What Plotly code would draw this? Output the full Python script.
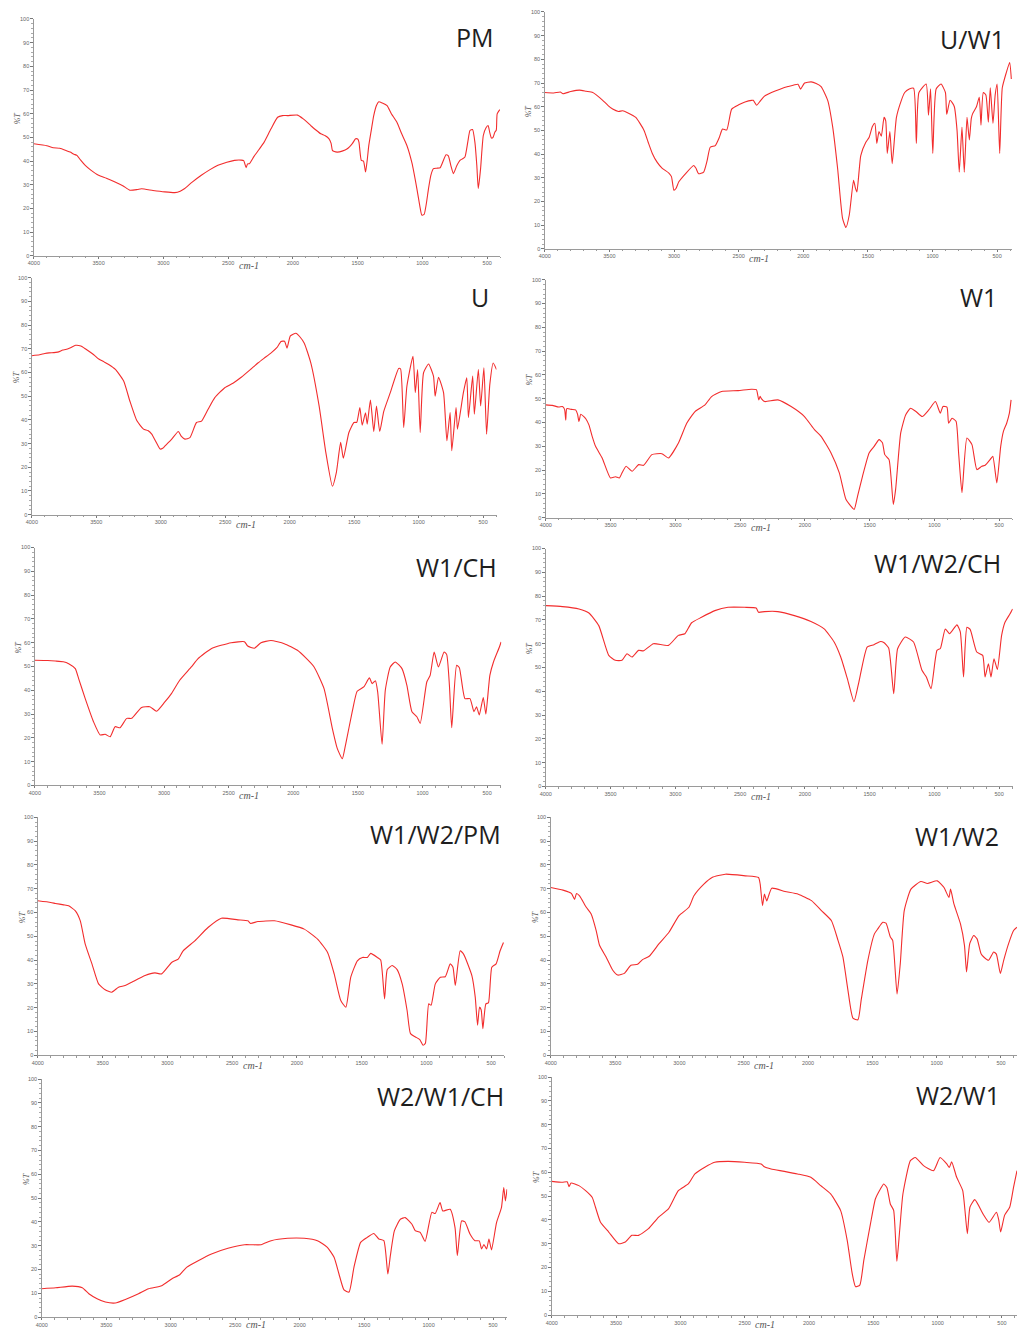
import plotly.graph_objects as go

W, H = 1017, 1332

# ---------------- data (wavenumber cm-1, %T) ----------------
PM_wn = [4000,3900,3850,3800,3757,3720,3690,3667,3640,3603,
         3560,3500,3440,3373,3310,3258,3200,3168,3080,2989,
         2912,2870,2835,2780,2707,2640,2579,2510,2451,2400,
         2380,2361,2350,2336,2300,2260,2222,2170,2118,2080,
         2041,1964,1920,1862,1820,1785,1750,1721,1705,1695,
         1680,1657,1620,1580,1540,1516,1500,1490,1472,1455,
         1439,1425,1414,1395,1376,1355,1337,1310,1273,1240,
         1197,1160,1120,1080,1043,1020,1005,987,970,953,
         935,915,890,863,840,818,800,780,761,735,
         710,690,672,650,633,613,595,580,569,551,
         540,530,510,493,480,467,455,441,430,423,
         403]
PM_T = [47.3,46.5,45.6,45.4,44.6,43.8,42.9,42.4,40.5,38.2,
        36.2,34,32.8,31.2,29.5,27.7,28,28.3,27.6,27,
        26.7,27.3,28.4,31,34,36.4,38.2,39.5,40.3,40.4,
        40.2,37.2,38.8,38.9,42,45,48,53.5,58.5,59.2,
        59.2,59.4,57.8,55,53,51.5,50.7,49.4,47.5,44.5,
        44,43.8,44.2,45.2,47.5,49.4,49.3,48,40.3,40,
        35.4,41,46.6,53,59.2,63.5,65,64.5,63.4,60,
        56.4,51.5,46.6,39,28.4,21,17.2,17.5,22,28.4,
        34,36.8,37,37.2,40,42.7,42.2,38,34.7,38,
        40.3,41,41.7,48,52.9,53.3,48,38,28.4,36.8,
        45,50.8,54,55,52,49.7,50,52.2,53,59.9,
        61.7]

UW1_wn = [4000,3930,3880,3859,3800,3731,3680,3629,3590,3552,
          3510,3475,3430,3398,3360,3296,3232,3200,3168,3130,
          3091,3040,3020,3001,2985,2963,2912,2848,2830,2810,
          2771,2745,2720,2681,2650,2625,2592,2554,2500,2451,
          2400,2387,2361,2336,2300,2246,2180,2118,2041,2021,
          1990,1939,1900,1862,1811,1773,1734,1696,1670,1644,
          1611,1598,1585,1555,1516,1491,1465,1446,1431,1414,
          1396,1375,1362,1350,1330,1312,1279,1241,1215,1180,
          1146,1125,1105,1049,1031,1015,998,972,934,900,
          890,864,845,831,810,793,772,754,733,715,
          700,690,660,638,625,607,587,568,553,532,
          515,500,480,460,429,403,390]
UW1_T = [66,65.8,66.2,65.5,66.4,67,66.5,66,64.5,62.7,
         60.5,59,58,58.3,57.5,55.5,50,45,40.3,36.5,
         34,32,30.5,24.8,25.5,28.3,31.7,35.2,34,31.7,
         32.4,37,42.9,43.6,47,50.6,50.2,59,60.8,62,
         62.7,62.7,60.6,62.2,64.5,66,67.4,68.5,69.5,67.4,
         70,70.5,69.8,68.5,62.7,51.7,33.8,12.9,9,14.3,
         29,26,24,39.4,45,47,51.7,53,44.5,49.5,
         47.6,55.5,54,40.3,49.5,36,55.5,62.7,66,67.5,
         67.8,44.5,66,69.6,56.4,67.6,40.3,67.5,69.6,66,
         56.8,62.7,61.5,60,50,32.4,51.3,32.4,55.5,46,
         55,57,60,64,52.2,66,65,53.5,68,53,
         65,69.6,40.3,68,74.4,78.7,71.7]

U_wn = [4000,3940,3900,3866,3800,3760,3738,3700,3661,3620,
        3580,3520,3481,3440,3404,3352,3288,3240,3185,3134,
        3100,3070,3040,3005,2985,2967,2915,2864,2840,2813,
        2774,2723,2684,2633,2581,2504,2440,2376,2300,2247,
        2200,2144,2100,2067,2040,2021,1995,1952,1920,1887,
        1836,1772,1720,1669,1638,1605,1584,1541,1502,1480,
        1456,1438,1412,1399,1374,1348,1327,1302,1271,1220,
        1155,1140,1116,1091,1044,1026,1008,988,962,923,
        885,872,846,807,781,756,743,710,699,653,
        627,614,581,568,537,519,494,473,448,422,
        396]
U_T = [67.1,67.5,68,68.3,68.6,69.5,69.7,70.5,71.5,71.2,
       69.8,67.5,65.7,64.5,63.4,61.3,56.4,48,39.6,36.1,
       35.5,34,31,27.7,28,29,31.9,35.1,33,31.9,
       32.5,38.9,39.5,44.5,49.4,53.6,55.5,58,61.5,64,
       66,68.3,70.5,73.1,73.2,70.3,75.5,76.6,75,72.4,
       64,45.9,26.3,12,17.9,30.5,23.8,34.7,38.9,39,
       45.2,37.8,43,38.2,48.4,35.1,45.9,35.1,43.5,51.5,
       61.7,61.5,36.8,54.3,66.9,51.5,61.3,34.7,59.9,63.6,
       58.5,50,58,51.5,31.2,43.1,27,45.2,36.1,51.5,
       57.8,41,58.5,42.4,61.3,45.9,62,34,55,64,
       61.3]

W1_wn = [4000,3950,3900,3872,3855,3846,3838,3800,3770,3755,
         3744,3730,3706,3690,3667,3642,3616,3565,3501,3462,
         3432,3410,3380,3334,3283,3245,3181,3104,3053,2976,
         2912,2848,2771,2720,2643,2515,2413,2374,2356,2345,
         2336,2310,2208,2106,2003,1926,1875,1798,1734,1683,
         1645,1619,1593,1555,1504,1465,1427,1401,1383,1350,
         1317,1299,1260,1222,1184,1140,1094,1043,992,954,
         934,903,890,864,833,813,787,749,710,672,
         634,608,570,549,518,488,467,442,421,408]
W1_T = [47.4,47.2,46.5,46.7,45.5,41,45.8,45.5,45.3,43.5,
        40.4,43.5,42.5,41.5,39,34.2,30,25.1,16.7,17.2,
        16.7,19,21.6,19.5,22.3,22,26.5,26.9,25.1,31.4,
        39.7,44.6,47.4,50.9,53,53.4,54,53.8,49.5,51,
        50,48.8,49.5,46.7,42.5,37,34.2,27.2,18.8,7.7,
        4.9,3.5,9.1,17.4,27.2,30,32.8,31.5,26.5,24.4,
        5.6,12,35.6,43.2,46,44.5,42.5,45.3,48.8,43.9,
        46.7,46.5,39.7,41.8,40.5,27.2,10.5,33.5,30.7,20.2,
        21.6,22,24.4,25.8,14.6,30,36.3,39.7,43.9,49.5]

W1CH_wn = [4000,3900,3841,3780,3738,3687,3661,3610,3546,3494,
           3456,3417,3379,3340,3289,3251,3174,3110,3058,2994,
           2943,2879,2789,2737,2635,2481,2378,2353,2301,2250,
           2173,2070,1968,1903,1839,1762,1698,1660,1621,1596,
           1544,1506,1455,1411,1390,1365,1347,1313,1288,1250,
           1211,1159,1121,1082,1044,1018,967,941,910,877,
           833,813,792,774,736,715,672,633,602,582,
           561,530,510,479,451,405,392]
W1CH_T = [52.6,52.5,52.3,52,51.2,49.1,44.9,36.5,26.8,21.2,
          21.5,20.5,24.7,24.3,28.2,28.2,32.8,33.1,31.2,35.1,
          38.6,44.2,49.8,53.3,57.5,60,60.4,58.6,57.7,60,
          60.9,59.6,56.8,53.6,49.8,40.7,24,15.6,11.2,17,
          31,39.6,41.4,45.2,42.8,44,39.3,17.3,40,49.8,
          51.9,49.1,42.1,31,28.9,26.1,43.5,46.3,56.1,49.8,
          56.1,55,42.1,24.3,50.5,49.5,36.5,36.5,31,33.1,
          29.6,37,30,46.3,51.9,58.2,60.3]

W1W2CH_wn = [4000,3872,3744,3667,3591,3514,3463,3412,3373,3335,
             3284,3245,3169,3053,2977,2926,2874,2798,2695,2593,
             2465,2376,2358,2312,2209,2081,1953,1851,1774,1723,
             1672,1621,1583,1519,1467,1416,1391,1353,1314,1284,
             1225,1161,1096,1062,1026,980,954,916,883,826,
             800,775,749,724,673,627,609,583,563,540,
             514,481,455,417,396]
W1W2CH_T = [76,75.6,74.6,72.9,67.6,55.1,53,53,55.8,54.4,
            57.2,57,60,59.3,63.5,64.2,68.8,71.1,73.9,75.3,
            75.3,75,73.2,73.5,73.5,71.8,69.3,66.2,60.7,54.4,
            45.3,35.6,43.9,58.6,59.6,60.9,60.5,58.2,39,57.9,
            62.8,60.7,48.8,46,41.1,57.2,58,66.2,64.2,67.9,
            65,46,66.9,66,56.5,55.1,46,51.6,46,53.7,
            49.2,63.5,69,72.5,74.6]

W1W2PM_wn = [4000,3900,3864,3800,3762,3710,3672,3634,3582,3531,
             3480,3429,3377,3326,3275,3172,3096,3044,2967,2916,
             2878,2788,2686,2583,2455,2378,2358,2301,2173,2045,
             1943,1840,1763,1712,1661,1622,1584,1533,1494,1456,
             1430,1379,1353,1323,1302,1264,1226,1187,1149,1123,
             1085,1051,1026,1008,982,964,931,892,854,816,
             795,777,739,713,649,623,605,590,577,564,
             541,521,495,462,431,405]
W1W2PM_T = [64.9,64.2,63.8,63.2,62.8,60.7,56.5,46.7,38.4,30,
            27.5,26.5,28.6,29.3,30.7,33.5,34.6,34.2,39,40.4,
            43.9,48.1,53.7,57.6,56.9,56.5,55.4,56.2,56.5,54.8,
            53,48.8,43.2,34.2,23,20.2,32.8,39.7,41.1,41.1,
            42.8,41.1,40,23.7,36,37.7,36,30,18.8,9.1,
            7.7,6.6,4.2,5,21.6,21,30,32.8,33,38.4,
            37,29.3,43.9,42.5,33.5,24.4,12.6,20.2,19,11.2,
            21.6,22,37,38.4,43.9,47.4]

W1W2_wn = [4000,3905,3840,3815,3800,3776,3724,3686,3647,3621,
           3570,3518,3480,3428,3377,3325,3287,3235,3158,3081,
           3003,2926,2887,2810,2746,2643,2488,2385,2372,2354,
           2339,2321,2282,2179,2076,1973,1896,1819,1767,1729,
           1690,1651,1612,1587,1535,1484,1458,1419,1394,1360,
           1342,1308,1283,1252,1200,1123,1072,995,943,905,
           892,866,815,784,768,743,712,686,655,634,
           596,557,536,505,479,441,402,376]
W1W2_T = [70.5,69.4,68,65.5,68,67,62.2,59.4,52.4,46.2,
          41.3,35.7,33.7,34.4,37.8,38.2,40.2,41.6,46.9,51.7,
          58.7,62.2,67,71.9,74.7,76.1,75.4,74.7,71.9,62.9,
          67.7,64.9,70.2,68.8,67.7,65,60.8,56.6,48.3,41.3,
          27.4,15.6,14.9,23.2,39.9,51,53.1,55.9,55.5,49.7,
          48.3,25.7,38.5,60.8,69.8,73,72.2,73.3,70.5,66.3,
          69.8,63.6,55.2,46.2,35,46.9,50.3,48.9,42.7,41.3,
          39.9,43.4,42.5,34.4,39.9,46.9,52.4,53.8]

W2W1CH_wn = [4000,3892,3764,3686,3635,3571,3507,3429,3352,3250,
             3172,3070,2993,2928,2877,2787,2684,2556,2427,2376,
             2299,2221,2093,1965,1862,1785,1733,1695,1656,1617,
             1579,1527,1476,1425,1386,1347,1316,1296,1265,1219,
             1181,1129,1104,1065,1027,975,949,911,890,833,
             795,777,744,718,679,640,607,589,571,550,
             532,512,473,435,417,404,392]
W2W1CH_T = [11.9,12.3,13,12.3,9.8,7.7,6.3,5.9,7.4,9.8,
            11.9,13.2,16,17.9,20.9,23.7,26.5,28.9,30.4,30.4,
            30.4,32.1,33.1,33.1,32.1,29.3,25.1,18.1,11.4,10.5,
            20.9,31.4,33.5,35.1,32.8,32.1,18.1,26,36.3,41.1,
            41.8,39,36.3,35.6,31.8,44,43.5,48.1,44.6,45.3,
            37.6,25.8,40.4,40,34.9,32.1,32,28.6,30.5,28.6,
            32.8,28.2,39.7,46,54.4,48.8,53.7]

W2W1_wn = [4000,3918,3880,3866,3850,3789,3737,3686,3660,3621,
           3557,3480,3428,3377,3325,3248,3171,3093,3016,2939,
           2887,2810,2733,2630,2501,2372,2347,2295,2192,2089,
           1986,1909,1832,1754,1703,1664,1638,1605,1574,1522,
           1484,1445,1419,1394,1368,1342,1317,1296,1270,1212,
           1174,1110,1032,981,929,909,891,852,805,769,
           749,711,647,600,543,525,510,479,440,410,383]
W2W1_T = [56.2,55.8,56,54,55.5,54.4,52.3,49.5,45.3,39,
          34.9,30,30.7,33.5,33.5,36.3,41.1,44.6,52.3,55.1,
          59.3,62.1,64.2,64.6,64.2,63.5,62.3,61.4,60.4,59.3,
          57.9,54.4,50.9,43.9,31.4,17.4,11.9,12.6,23,38.4,
          48.8,53,55.1,53.5,46.7,44,22.6,35,50.9,64.9,
          66.2,62.8,60.7,66.2,63.5,62,64.4,57.9,52.3,34.2,
          45.3,48.5,42.5,39,43.2,40,34.9,42,45.3,53.7,60.7]

titles = ["PM", "U/W1", "U", "W1", "W1/CH", "W1/W2/CH",
          "W1/W2/PM", "W1/W2", "W2/W1/CH", "W2/W1"]
series = [(PM_wn, PM_T), (UW1_wn, UW1_T), (U_wn, U_T), (W1_wn, W1_T),
          (W1CH_wn, W1CH_T), (W1W2CH_wn, W1W2CH_T), (W1W2PM_wn, W1W2PM_T),
          (W1W2_wn, W1W2_T), (W2W1CH_wn, W2W1CH_T), (W2W1_wn, W2W1_T)]

# ---------------- layout of the panels (pixels) ----------------
# left px of 4000, px per unit, range end, y px of 100, y px of 0, title right px, title centre px
geom = [
    (28, 0.1303, 400, 16, 254, 493, 34),
    (542, 0.1300, 385, 9, 247, 1007, 36),
    (26, 0.1297, 396, 276, 514, 488, 295),
    (543, 0.1303, 400, 278, 517, 999, 295),
    (29, 0.1300, 390, 547, 786, 496, 567),
    (543, 0.1303, 395, 548, 787, 1003, 563),
    (32, 0.1303, 400, 818, 1057, 500, 835),
    (548, 0.1294, 376, 818, 1057, 1001, 837),
    (36, 0.1297, 390, 1081, 1320, 503, 1098),
    (549, 0.1294, 383, 1079, 1318, 1002, 1097),
]

for wn, t in series:
    assert len(wn) == len(t), (len(wn), len(t))

fig = go.Figure()
annotations = []
layout = {}
AX = "#9a9a9a"
TICKF = dict(size=5.5, color="#666666", family="Liberation Sans")

for i, ((wn, t), name, g) in enumerate(zip(series, titles, geom), start=1):
    xl, sc, xend, y100, y0, tr, tc = g
    xr = min(xl + (4000 - xend) * sc, W)
    xa = "x" if i == 1 else f"x{i}"
    ya = "y" if i == 1 else f"y{i}"
    fig.add_trace(go.Scatter(x=wn, y=t, mode="lines", xaxis=xa, yaxis=ya,
                             line=dict(color="rgb(242,45,45)", width=1.1,
                                       shape="spline", smoothing=0.5),
                             showlegend=False, hoverinfo="skip"))
    layout[f"xaxis{'' if i == 1 else i}"] = dict(
        domain=[xl / W, xr / W], anchor=ya, range=[4000, xend],
        showgrid=False, zeroline=False, showline=True, linecolor=AX, linewidth=1,
        ticks="outside", ticklen=2, tickcolor="#777", tickwidth=1,
        tick0=0, dtick=500, tickfont=TICKF,
        minor=dict(dtick=100, ticks="outside", ticklen=1.5, tickcolor="#999"),
    )
    layout[f"yaxis{'' if i == 1 else i}"] = dict(
        domain=[(H - y0) / H, (H - y100) / H], anchor=xa, range=[0, 100],
        showgrid=False, zeroline=False, showline=True, linecolor=AX, linewidth=1,
        ticks="outside", ticklen=2.5, tickcolor="#777", tickwidth=1,
        tick0=0, dtick=10, tickfont=TICKF,
        minor=dict(dtick=2, ticks="outside", ticklen=1.5, tickcolor="#aaa"),
    )
    # panel title
    annotations.append(dict(text=name, x=tr / W, y=(H - tc) / H, xref="paper", yref="paper",
                            xanchor="right", yanchor="middle", showarrow=False,
                            font=dict(family="Open Sans", size=25, color="#1e1e1e")))
    # %T label
    annotations.append(dict(text="<i>%T</i>", x=(xl - 16) / W,
                            y=(H - (y0 - 0.58 * (y0 - y100))) / H, xref="paper", yref="paper",
                            xanchor="center", yanchor="middle", showarrow=False, textangle=-90,
                            font=dict(family="Liberation Serif", size=8, color="#555")))
    # cm-1 label
    cy = min(y0 + 10, H - 5)
    annotations.append(dict(text="<i>cm-1</i>", x=2340, xref=xa, y=(H - cy) / H,
                            yref="paper", xanchor="center", yanchor="middle", showarrow=False,
                            font=dict(family="Liberation Serif", size=10, color="#555")))

fig.update_layout(width=W, height=H, margin=dict(l=0, r=0, t=0, b=0),
                  paper_bgcolor="white", plot_bgcolor="white",
                  annotations=annotations, **layout)

fig.write_html("out.html", config={"displayModeBar": False, "staticPlot": True},
               post_script="document.body.style.margin='0';document.body.style.overflow='hidden';")
